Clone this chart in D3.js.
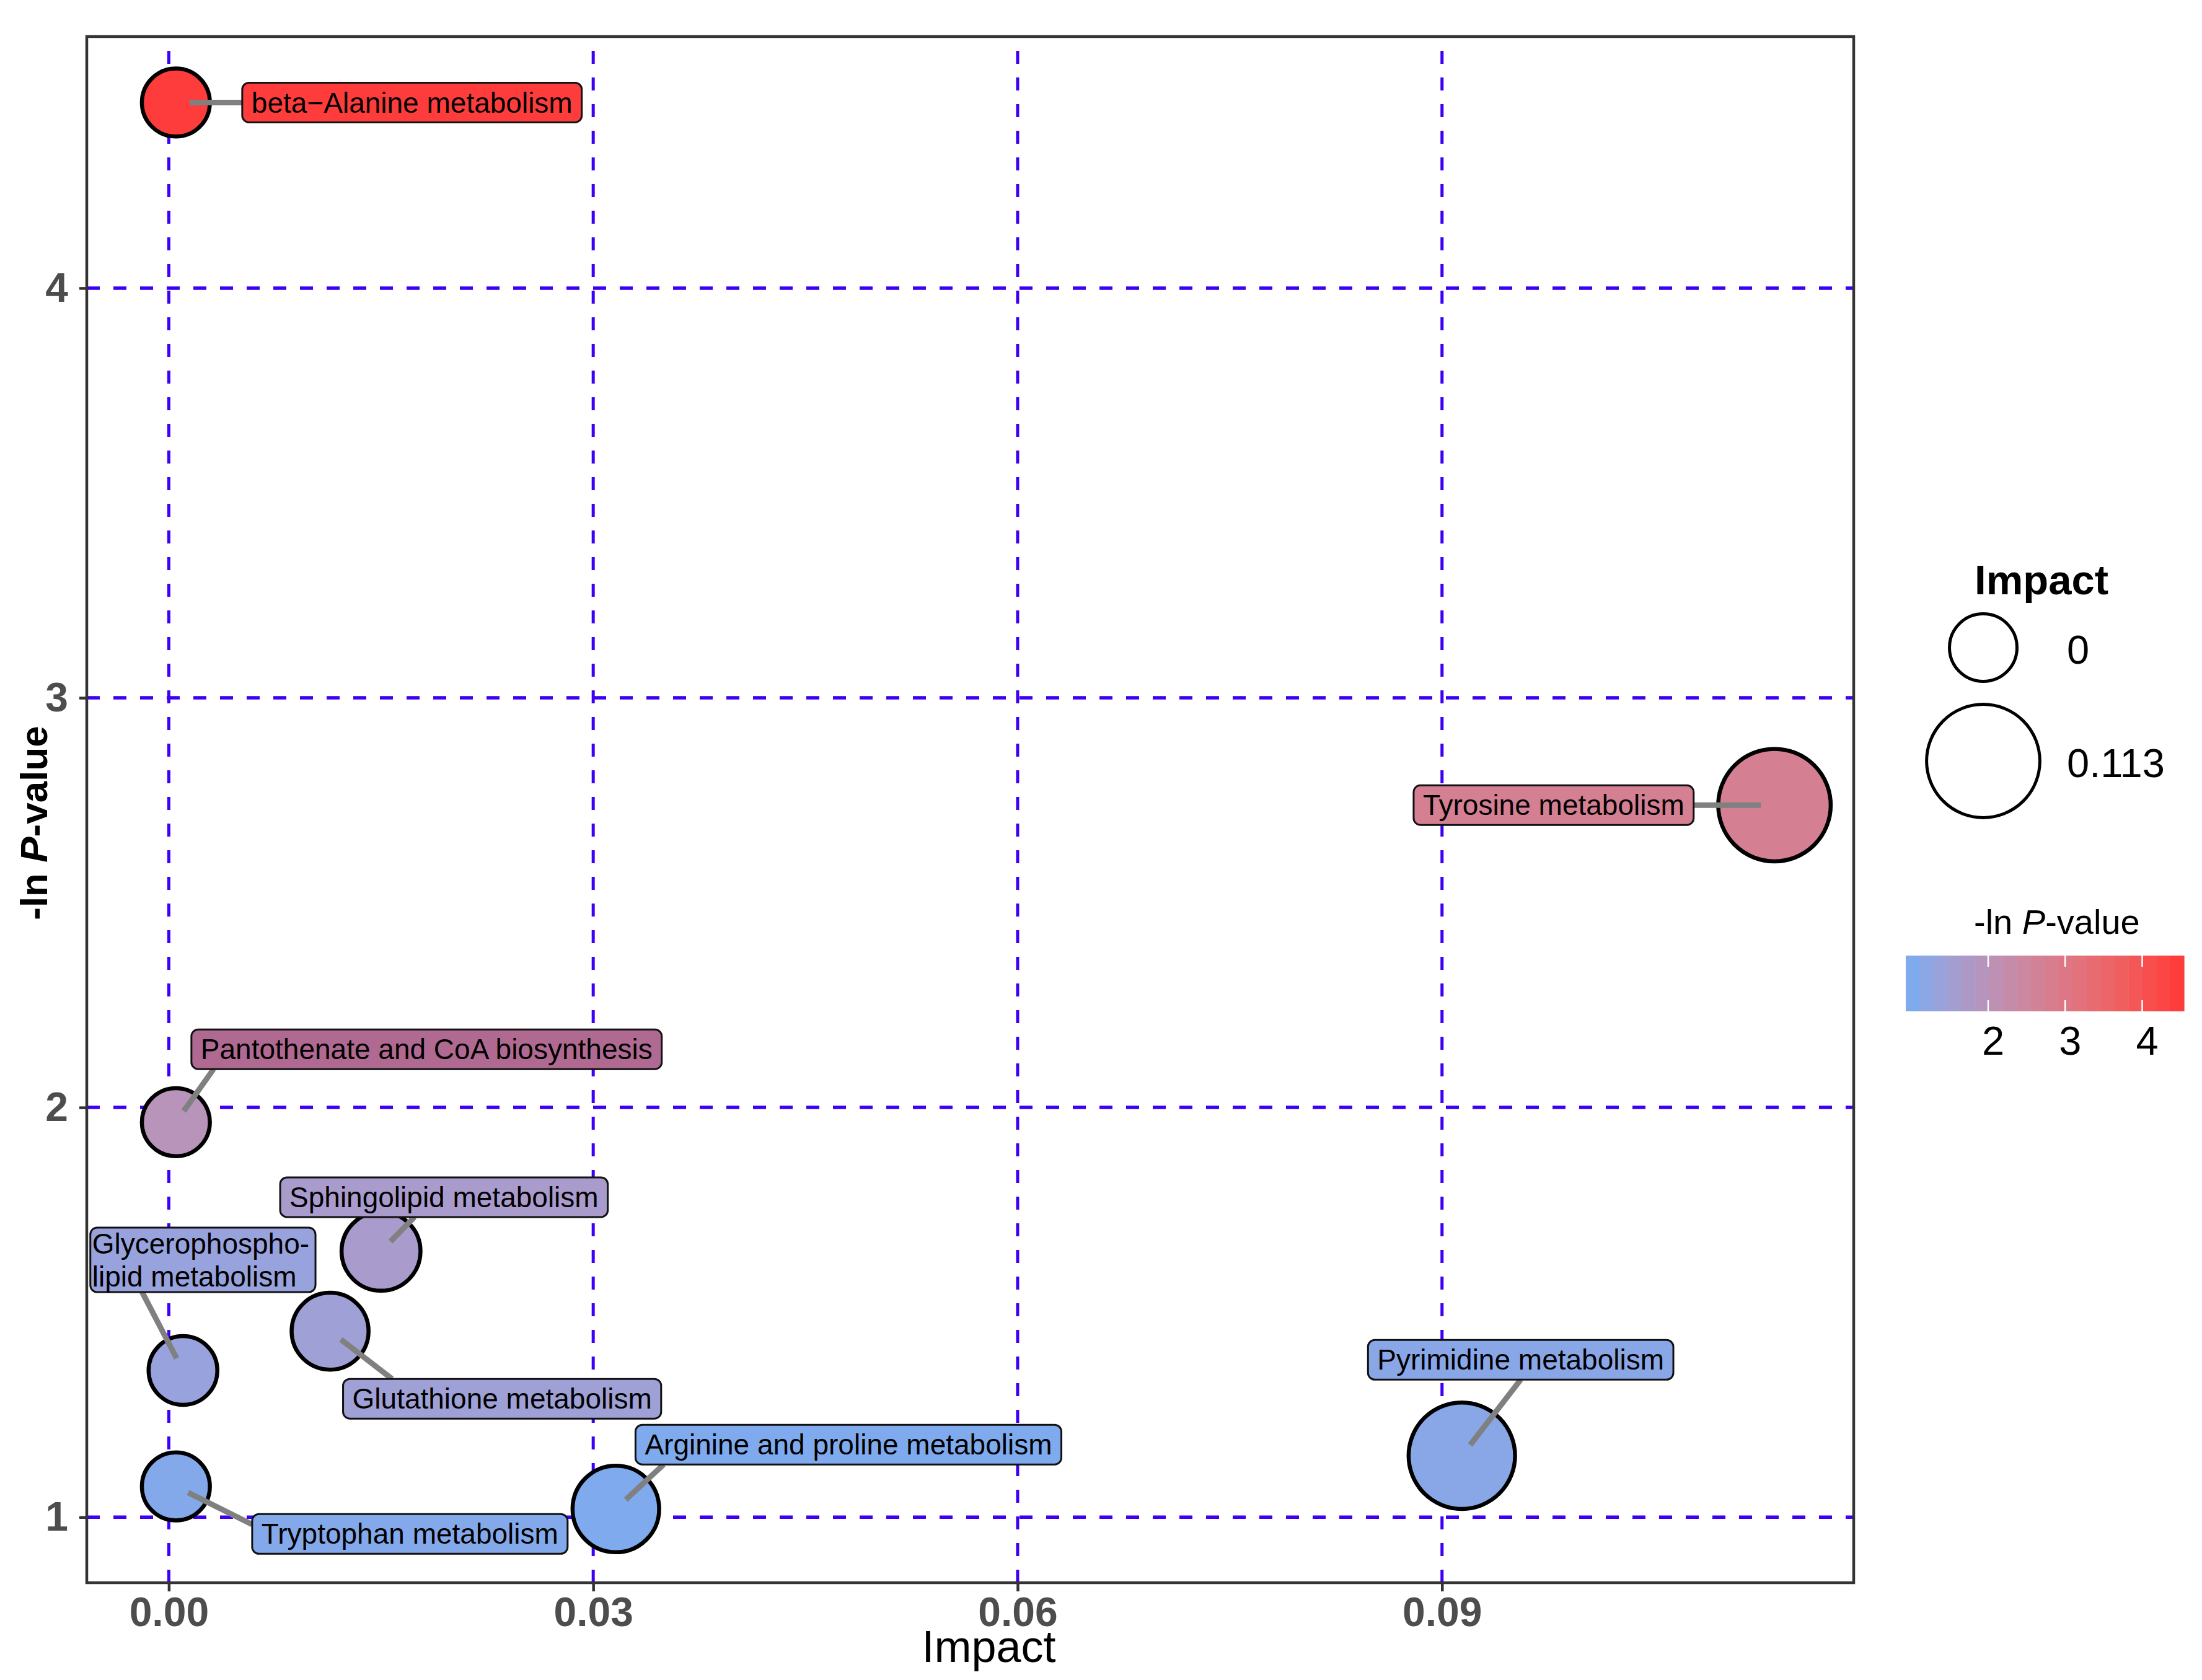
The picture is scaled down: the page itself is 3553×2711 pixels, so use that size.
<!DOCTYPE html>
<html>
<head>
<meta charset="utf-8">
<script src="https://cdn.jsdelivr.net/npm/d3@7"></script>
<style>
  body { margin: 0; background: #fff; }
  text { font-family: "Liberation Sans", Arial, sans-serif; }
</style>
</head>
<body>
<svg id="chart"></svg>
<script>
// pathway data
const pathways = [
    "beta\u2212Alanine metabolism",
    "Tyrosine metabolism",
    "Pantothenate and CoA biosynthesis",
    "Sphingolipid metabolism",
    "Glycerophospho-\nlipid metabolism",
    "Glutathione metabolism",
    "Tryptophan metabolism",
    "Arginine and proline metabolism",
    "Pyrimidine metabolism"
];
const impact = [0.0005, 0.1135, 0.0005, 0.0150, 0.0010, 0.0114, 0.0005, 0.0316, 0.0914];
const lnP = [4.453, 2.738, 1.964, 1.649, 1.358, 1.454, 1.075, 1.020, 1.150];

// where the repelled labels ended up (data units)
const labelImpact = [0.01719, 0.09789, 0.01822, 0.01945, 0.00241, 0.02356, 0.01704, 0.04804, 0.09556];
const labelLnP = [4.453, 2.738, 2.142, 1.781, 1.628, 1.289, 0.959, 1.177, 1.384];
// where each leader line meets its label box (fraction of box width, height)
const segAttach = [[0, 0.5], [1, 0.5], [0.047, 1], [0.41, 1], [0.23, 1], [0.154, 0], [0, 0.26], [0.066, 1], [0.5, 1]];

const xTicks = [0, 0.03, 0.06, 0.09];
const yTicks = [1, 2, 3, 4];
const sizeBreaks = [0, 0.113];
const sizeLabels = ["0", "0.113"];
const colorTicks = [2, 3, 4];

const W = 3553, H = 2711;
const panel = {left: 140, right: 2991, top: 59, bottom: 2554};
const fontLabel = 46;

const svg = d3.select("#chart")
    .attr("width", W)
    .attr("height", H);

svg.append("rect").attr("width", W).attr("height", H).attr("fill", "#fff");

const x = d3.scaleLinear()
    .domain([-0.0058, 0.1191])
    .range([panel.left, panel.right]);

const y = d3.scaleLinear()
    .domain([0.840, 4.614])
    .range([panel.bottom, panel.top]);

const colorDomain = d3.extent(lnP);
const color = d3.scaleLinear()
    .domain(colorDomain)
    .range(["#7faaee", "#ff3c3c"])
    .interpolate(d3.interpolateLab);

// outer radius of the bubble (incl. stroke)
const size = d3.scalePow().exponent(0.65)
    .domain([0, 0.1135])
    .range([57, 94]);

const pointStroke = 6.5;

// grid
const grid = svg.append("g").attr("stroke", "#3d00f5").attr("stroke-dasharray", "21,22");
grid.selectAll(".vgrid")
    .data(xTicks)
    .enter().append("line")
    .attr("x1", d => x(d)).attr("x2", d => x(d))
    .attr("y1", panel.bottom).attr("y2", panel.top)
    .attr("stroke-width", 5);
grid.selectAll(".hgrid")
    .data(yTicks)
    .enter().append("line")
    .attr("x1", panel.left).attr("x2", panel.right)
    .attr("y1", d => y(d)).attr("y2", d => y(d))
    .attr("stroke-width", 5.5);

// axes
const xAxis = svg.append("g")
    .attr("transform", "translate(0," + panel.bottom + ")")
    .call(d3.axisBottom(x).tickValues(xTicks).tickFormat(d3.format(".2f")).tickSize(14).tickPadding(9));
const yAxis = svg.append("g")
    .attr("transform", "translate(" + panel.left + ",0)")
    .call(d3.axisLeft(y).tickValues(yTicks).tickFormat(d3.format("d")).tickSize(12).tickPadding(18));

[xAxis, yAxis].forEach(function(a) {
    a.select(".domain").remove();
    a.selectAll(".tick line").attr("stroke", "#333").attr("stroke-width", 4.5);
    a.selectAll(".tick text")
        .attr("fill", "#4d4d4d")
        .style("font-size", "66px")
        .style("font-weight", "bold")
        .style("font-family", "'Liberation Sans', Arial, sans-serif");
});

// axis titles
svg.append("text")
    .attr("x", (panel.left + panel.right) / 2 + 30)
    .attr("y", 2682)
    .attr("text-anchor", "middle")
    .style("font-size", "72px")
    .text("Impact");

const yTitle = svg.append("text")
    .attr("transform", "translate(76," + 1328 + ") rotate(-90)")
    .attr("text-anchor", "middle")
    .style("font-size", "62px")
    .style("font-weight", "bold");
yTitle.append("tspan").text("-ln ");
yTitle.append("tspan").style("font-style", "italic").text("P");
yTitle.append("tspan").text("-value");

// data rows
const rows = pathways.map((p, i) => ({
    name: p,
    impact: impact[i],
    lnP: lnP[i],
    lx: labelImpact[i],
    ly: labelLnP[i],
    att: segAttach[i]
}));

// label fill that differs from the point colour
const labelFillOverride = {"Pantothenate and CoA biosynthesis": "#b06a92"};

// bubbles
svg.append("g").selectAll(".dot")
    .data(rows)
    .enter().append("circle")
    .attr("class", "dot")
    .attr("cx", d => x(d.impact))
    .attr("cy", d => y(d.lnP))
    .attr("r", d => size(d.impact) - pointStroke / 2)
    .attr("fill", d => color(d.lnP))
    .attr("stroke", "#000")
    .attr("stroke-width", pointStroke);

// measure labels
const measure = svg.append("text").style("font-size", fontLabel + "px");
rows.forEach(function(d) {
    d.lines = d.name.split("\n");
    d.textW = d3.max(d.lines, function(l) {
        measure.text(l);
        return measure.node().getComputedTextLength();
    });
    const multi = d.lines.length > 1;
    d.boxW = d.textW + (multi ? 13 : 30);
    d.boxH = 64 + (d.lines.length - 1) * 40;
    d.cx = x(d.lx);
    d.cy = y(d.ly);
    d.bx0 = d.cx - d.boxW / 2;
    d.by0 = d.cy - d.boxH / 2;
});
measure.remove();

// leader lines: from near the point centre to the box edge
svg.append("g").selectAll(".seg")
    .data(rows)
    .enter().append("line")
    .attr("class", "seg")
    .each(function(d) {
        const px = x(d.impact), py = y(d.lnP);
        const ex = d.bx0 + d.att[0] * d.boxW;
        const ey = d.by0 + d.att[1] * d.boxH;
        const len = Math.hypot(ex - px, ey - py);
        const off = 22 / len;
        d3.select(this)
            .attr("x1", px + (ex - px) * off)
            .attr("y1", py + (ey - py) * off)
            .attr("x2", ex)
            .attr("y2", ey);
    })
    .attr("stroke", "#808080")
    .attr("stroke-width", 9);

// label boxes
const lab = svg.append("g").selectAll(".lab")
    .data(rows)
    .enter().append("g")
    .attr("class", "lab");

lab.append("rect")
    .attr("x", d => d.bx0)
    .attr("y", d => d.by0)
    .attr("width", d => d.boxW)
    .attr("height", d => d.boxH)
    .attr("rx", 11)
    .attr("fill", d => labelFillOverride[d.name] || color(d.lnP))
    .attr("stroke", "#111")
    .attr("stroke-width", 3);

lab.each(function(d) {
    const g = d3.select(this);
    const n = d.lines.length;
    d.lines.forEach(function(l, i) {
        g.append("text")
            .attr("x", n > 1 ? d.bx0 + 3 : d.cx)
            .attr("y", d.cy + 0.35 * fontLabel + (i - (n - 1) / 2) * 53)
            .attr("text-anchor", n > 1 ? "start" : "middle")
            .style("font-size", fontLabel + "px")
            .attr("fill", "#000")
            .text(l);
    });
});

// panel border
svg.append("rect")
    .attr("x", panel.left).attr("y", panel.top)
    .attr("width", panel.right - panel.left)
    .attr("height", panel.bottom - panel.top)
    .attr("fill", "none")
    .attr("stroke", "#333")
    .attr("stroke-width", 4.5);

// size legend
const leg = svg.append("g");
leg.append("text")
    .attr("x", 3294).attr("y", 959)
    .attr("text-anchor", "middle")
    .style("font-size", "67px")
    .style("font-weight", "bold")
    .text("Impact");

const legY = [1045, 1228];
leg.selectAll(".lcirc")
    .data(sizeBreaks)
    .enter().append("circle")
    .attr("cx", 3200)
    .attr("cy", (d, i) => legY[i])
    .attr("r", d => size(d) - 2.5)
    .attr("fill", "#fff")
    .attr("stroke", "#000")
    .attr("stroke-width", 5);
leg.selectAll(".ltext")
    .data(sizeLabels)
    .enter().append("text")
    .attr("x", 3335)
    .attr("y", (d, i) => legY[i] + 26)
    .style("font-size", "65px")
    .text(d => d);

// colour bar (20 bins like ggplot)
const nbin = 20;
const bar = {x0: 3075, x1: 3524, y0: 1542, y1: 1632};
const binW = (bar.x1 - bar.x0) / nbin;
const bins = d3.range(nbin).map(i => colorDomain[0] + (colorDomain[1] - colorDomain[0]) * i / (nbin - 1));

const cbTitle = svg.append("text")
    .attr("x", 3185).attr("y", 1507)
    .style("font-size", "56px");
cbTitle.append("tspan").text("-ln ");
cbTitle.append("tspan").style("font-style", "italic").text("P");
cbTitle.append("tspan").text("-value");

svg.append("g").selectAll(".bin")
    .data(bins)
    .enter().append("rect")
    .attr("x", (d, i) => bar.x0 + i * binW)
    .attr("y", bar.y0)
    .attr("width", binW + 0.6)
    .attr("height", bar.y1 - bar.y0)
    .attr("fill", d => color(d));

const cbPos = d3.scaleLinear()
    .domain(colorDomain)
    .range([bar.x0 + binW / 2, bar.x1 - binW / 2]);

const cbTick = svg.append("g").selectAll(".cbt")
    .data(colorTicks)
    .enter().append("g");
cbTick.append("line")
    .attr("x1", d => cbPos(d)).attr("x2", d => cbPos(d))
    .attr("y1", bar.y0).attr("y2", bar.y0 + 18)
    .attr("stroke", "#fff").attr("stroke-width", 2.5);
cbTick.append("line")
    .attr("x1", d => cbPos(d)).attr("x2", d => cbPos(d))
    .attr("y1", bar.y1 - 18).attr("y2", bar.y1)
    .attr("stroke", "#fff").attr("stroke-width", 2.5);
cbTick.append("text")
    .attr("x", d => cbPos(d) + 8)
    .attr("y", 1702)
    .attr("text-anchor", "middle")
    .style("font-size", "65px")
    .text(d => d);
</script>
</body>
</html>
